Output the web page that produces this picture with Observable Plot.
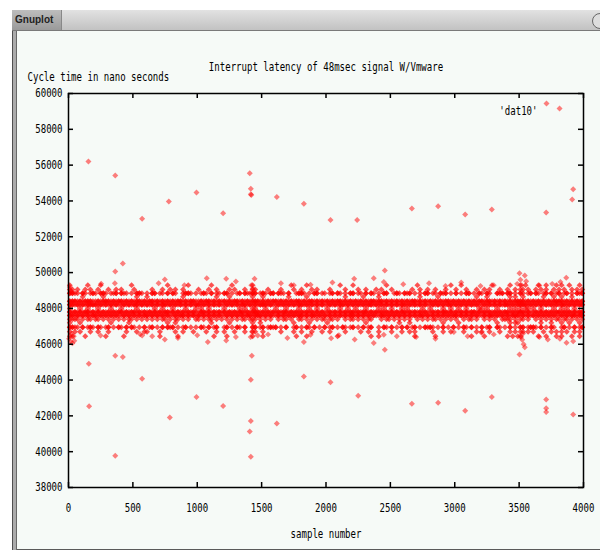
<!DOCTYPE html>
<html><head><meta charset="utf-8">
<script src="https://cdn.jsdelivr.net/npm/d3@7"></script>
<script src="https://cdn.jsdelivr.net/npm/@observablehq/plot@0.6"></script>
<style>
html,body{margin:0;padding:0;background:#fff;width:600px;height:550px;overflow:hidden;}
#bar{position:absolute;left:12px;top:10px;width:588px;height:21px;background:linear-gradient(#e2e2e2,#c2c2c2);border-bottom:1px solid #7a7a7a;box-sizing:border-box;}
#tab{position:absolute;left:0;top:0;width:50px;height:20px;background:linear-gradient(#bdbdbd,#9a9a9a);font:bold 10px "Liberation Sans",sans-serif;color:#222;line-height:20px;padding-left:3px;box-sizing:border-box;border-right:1px solid #888;}
#close{position:absolute;left:592px;top:13px;width:14px;height:14px;border-radius:50%;border:1px solid #666;background:#ddd;}
#win{position:absolute;left:12px;top:31px;width:600px;height:518px;background:#f6faf7;border-bottom:1px solid #5a5a5a;}
#frameL{position:absolute;left:12px;top:31px;width:5px;height:519px;background:#ababab;border-left:1px solid #505050;border-right:1px solid #686868;box-sizing:border-box;}
#chart{position:absolute;left:0;top:0;}
</style></head>
<body>
<div id="bar"><div id="tab">Gnuplot</div></div>
<div id="close"></div>
<div id="win"></div>
<div id="frameL"></div>
<div id="chart"></div>
<script>
const titleText = "Interrupt latency of 48msec signal W/Vmware";
const yLabelText = "Cycle time in nano seconds";
const xLabelText = "sample number";
const keyText = "'dat10'";
const xTicks = [0, 500, 1000, 1500, 2000, 2500, 3000, 3500, 4000];
const yTicks = [38000, 40000, 42000, 44000, 46000, 48000, 50000, 52000, 54000, 56000, 58000, 60000];

// dense band: one row per latency level, one character per bin of 20 samples (digit = samples in bin)
const binSize = 20;
const bandLevels = [49300, 49050, 48850, 48650, 48400, 48200, 48000, 47800, 47600, 47400, 47200, 46950, 46700, 46450];
const bandRows = [
"1......1.. ..1....... ....1..... ........1. ......1... .....1.... ...1...... .1........ ......1... ..1....... .....1.... 1......... ...1...... .....1.... ........1. ..1....... ....1..... .1...1.1.. ..1..1...1 .1..1...1.",
"11.1..1.1. .1...1..1. 1....1.... ..1...1..1 .1..1..... 1...1..1.. ..1.1...1. .11....1.. ..1....1.. 1...1.1... .1.....1.. ..1..1...1 .1...1.... ...1..1..1 ..1...1... 1...1...1. .1.1...1.. 1..1.11.1. .1.1.1..1. 1.1..1.1.1",
"2211.21.12 1.221.112. 211.1.221. 1.22.11.2. 21..1221.1 .121.2.11. 22.1.12.21 122.121.22 .211.2..12 21.1.22.11 .12.21.1.2 2.11.2.21. 1.22..121. 212.1.1.22 .11.212.1. 2.1.22.1.2 1.21..212. 22.1.21.12 .21.12.2.1 2.12.1.212",
".....1.... ...1...... ......1... 1......... ....1..... .......1.. ..1....... .1...1.... .....1.... ..1....... .......1.. ....1..... 1......... ......1... ...1...... ........1. ..1....... .1.1..1... ....1...1. .1...1....",
"2221212221 1212221212 2121212212 1221212121 2122121221 1212212121 2121221212 1222121212 2121212122 1212212121 2121221212 1212121221 2212121212 1212212121 2121212212 1212121212 2122121212 1212222121 2121212122 2212121212",
"2212121222 2121212121 1212122121 2121212212 1212121212 2121212121 1212121221 2121222121 1212121212 2121212121 1212122121 2121212212 1212121212 2121212121 1212121221 2121212121 1212121212 2121222212 1212121212 1221212122",
"1...1..1.. .1....1... 1.....1... ...1..1... 1....1...1 .1..1..... 1.....1.1. .11...1... 1...1....1 ...1..1... 1....1..1. .1...1.... 1.1..1...1 .1.....1.. 1....1..1. .1..1....1 1.1...1... .1.1.1.11. 1..1....1. .1.1..1...",
"2121212212 1212121212 2121221212 1212121221 2121212121 1221212121 2121212212 1222121212 1212212121 2121212121 1212121212 2121221212 1212121212 2121212121 1212122121 2121212212 1212121212 2121222121 1212121212 2121212122",
"2212121212 2121212121 1212121212 2121212121 1212212121 2121212121 1212121212 2122212121 1212121212 2121221212 1212121212 2121212121 1221212121 2121212212 1212121212 2121212121 1212212121 2122212121 2121212121 1212122122",
"1111.1.11. 11.1.1.1.1 .1.11.1.1. 1.1.1.11.1 .11.1.1..1 1.1.11.1.1 .1.1.1.11. 111.1.1.1. .1.11.1..1 1.1.1.1.11 .11.1..1.1 1.1.1.11.. .1.11.1.1. 1.1..1.1.1 .11.1.1.1. 1..1.11.1. .1.1.1..11 11.1.11.1. .1.1.1.1.1 1.11.1.1.1",
"1...1..... ......1... ...1...... ........1. .1........ .....1.... ..1....... .1..1..... .......1.. ...1...... 1......... .....1.... ........1. ..1....... .....1.... .1........ ......1... .1.11..... ...1...1.. .1..1...1.",
"2211.2.121 .21.12.1.2 1.2.21.1.2 .12.1.2.21 2.1.12.1.1 .21.2.12.. 12.1.21.2. .22.12.121 2.1.2..12. 1.21.2.1.2 .12.1.21.1 2.1.2.12.. 1.21.2.1.2 .2.12.1.21 21.1.2.1.2 .1.21.2.1. 2.12..21.1 .2.1.22.12 21.2.1.21. .12.1.2.12",
"1.1.1...1. .1...1.... ..1...1..1 1....1.... .1..1...1. ...1...1.. 1...1...1. .11..1.... ..1....1.. 1...1...1. .1.....1.. ...1..1... 1....1...1 ..1.1..... .1...1..1. ...1....1. 1..1...1.. .1.1.11.1. 1...1..1.1 .1.1..1.1.",
"11....1... ....1..... .1........ .....1.... ..1....... ......1... .1........ .1...1.... ........1. ..1....... ....1..... .......1.. 1......... ....1..... ..1....... ......1... .1........ 1.1.11.... ..1..1...1 .1...1..1."
];

// scattered samples near the band [sample, ns]
const nearBand = [
[10,49200],[20,48950],[5,46300],[25,46600],[30,46050],[45,46200],[16,46140],[41,46450],
[254,49380],[360,49410],[249,46490],[557,46560],[650,46450],[700,49400],[850,46350],[900,49300],
[1000,46500],[1074,49690],[1082,46120],[1225,49660],[1225,46210],[1300,49500],[1300,46400],
[1420,49300],[1430,49100],[1425,46700],[1415,46400],[1445,49660],[1470,46490],[1550,46550],
[1650,49400],[1700,46350],[1750,49300],[1828,46120],[1880,49320],[1880,46530],[2040,46340],
[2050,49450],[2100,46500],[2219,49660],[2223,46260],[2371,49690],[2371,46070],[2449,49470],
[2449,46530],[2457,50120],[2457,45690],[2550,46450],[2600,49350],[2700,46400],[2800,49400],
[2850,46300],[2928,49250],[2993,46680],[3050,49450],[3100,46450],[3200,49250],[3208,46640],
[3303,49300],[3303,46550],[3485,49370],[3503,49970],[3510,49600],[3520,49300],[3544,49840],
[3555,49520],[3530,46600],[3515,46400],[3524,46250],[3535,46000],[3544,45830],[3503,45430],
[3658,49280],[3658,46400],[3723,46260],[3757,49370],[3817,46300],[3821,49470],[3866,49710],
[3868,46080],[3920,46170]
];

// isolated outliers [sample, ns]
const outliers = [
[155,56200],[363,55420],[779,53970],[572,53000],[994,54470],[363,50060],[422,50510],[748,49610],
[158,44910],[160,42540],[363,45350],[422,45280],[572,44070],[363,39770],[787,41910],[994,43050],
[748,46260],[572,46490],[1201,53320],[1408,55550],[1416,54680],[1416,54380],[1420,54330],
[1618,54220],[1828,53840],[2035,52930],[2242,52930],[2667,53580],[2871,53710],[3081,53250],
[3288,53520],[3710,53350],[3814,59160],[3920,54660],[3912,54080],[1424,45350],
[1416,44010],[1828,44200],[2035,43880],[2250,43120],[2667,42680],[1201,42550],[1416,41710],
[1618,41580],[1408,41130],[1416,39720],[2871,42730],[3081,42280],[3288,43050],[3710,42910],
[3710,42430],[3710,42210],[3920,42080]
];

const band = [];
bandRows.forEach((row, i) => {
  const s = row.replace(/ /g, "");
  if (s.length !== 200) throw new Error("row " + i + " length " + s.length);
  for (let b = 0; b < s.length; b++) {
    const n = s[b] === "." ? 0 : +s[b];
    for (let k = 0; k < n; k++) band.push({sample: b * binSize + binSize / 2, ns: bandLevels[i]});
  }
});
const scatter = nearBand.concat(outliers).map(([sample, ns]) => ({sample, ns}));

const red = "#ff0000";
const dotOpts = {x: "sample", y: "ns", symbol: "diamond2", r: 2.7, fill: red, fillOpacity: 0.5, stroke: "none"};
const fontFam = "'DejaVu Sans Mono','Liberation Mono',monospace";

const chart = Plot.plot({
  width: 600, height: 550,
  marginLeft: 68, marginRight: 17, marginTop: 93, marginBottom: 63,
  style: {background: "transparent", fontFamily: fontFam, fontSize: "12px", color: "#000", overflow: "visible"},
  x: {domain: [0, 4000], label: null},
  y: {domain: [38000, 60000], label: null},
  marks: [
    Plot.dot(band, {...dotOpts, fillOpacity: 0.68}),
    Plot.dot(scatter, dotOpts),
    Plot.axisX({ticks: xTicks, tickSize: 0, tickPadding: 16, tickFormat: d => String(d), label: null}),
    Plot.axisY({ticks: yTicks, tickSize: 0, tickPadding: 6, tickFormat: d => String(d), label: null}),
    Plot.tickX(xTicks, {x: d => d, insetTop: 389, stroke: "#000", strokeWidth: 1.5}),
    Plot.tickX(xTicks, {x: d => d, insetBottom: 389, stroke: "#000", strokeWidth: 1.5}),
    Plot.tickY(yTicks, {y: d => d, insetRight: 510, stroke: "#000", strokeWidth: 1.5}),
    Plot.tickY(yTicks, {y: d => d, insetLeft: 510, stroke: "#000", strokeWidth: 1.5}),
    Plot.frame({stroke: "#000", strokeWidth: 1.5}),
    Plot.text([titleText], {frameAnchor: "top", dy: -31, fill: "#000"}),
    Plot.text([yLabelText], {frameAnchor: "top-left", dx: -41, dy: -21, textAnchor: "start", fill: "#000"}),
    Plot.text([xLabelText], {frameAnchor: "bottom", dy: 50, fill: "#000"}),
    Plot.text([keyText], {frameAnchor: "top-right", dx: -46, dy: 13, textAnchor: "end", fill: "#000"}),
    Plot.dot([keyText], {frameAnchor: "top-right", dx: -37, dy: 10, symbol: "diamond2", r: 2.7, fill: red, fillOpacity: 0.5, stroke: "none"})
  ]
});
document.getElementById("chart").appendChild(chart);

// narrow the monospaced glyphs to the gnuplot X11 font width
const charW = 5.45;
chart.querySelectorAll("text").forEach(t => {
  const spans = t.querySelectorAll("tspan");
  const els = spans.length ? Array.from(spans) : [t];
  els.forEach(el => {
    const n = el.textContent.length;
    if (n) { el.setAttribute("textLength", n * charW); el.setAttribute("lengthAdjust", "spacingAndGlyphs"); }
  });
});
</script>
</body></html>
